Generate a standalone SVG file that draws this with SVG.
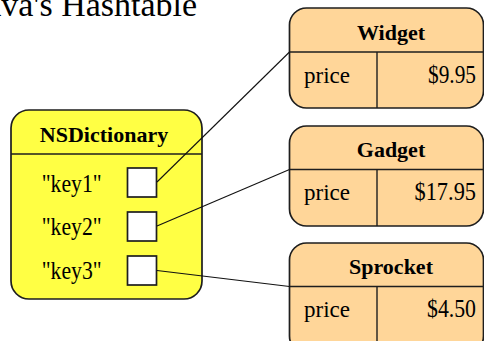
<svg xmlns="http://www.w3.org/2000/svg" width="484" height="341" viewBox="0 0 484 341">
  <style>
    .frame { stroke: #1e1e1e; stroke-width: 1.7; }
    .dict { fill: #ffff44; }
    .obj { fill: #ffd699; }
    .slot { fill: #ffffff; stroke: #1e1e1e; stroke-width: 1.7; }
    .rule { stroke: #1e1e1e; stroke-width: 1.4; fill: none; }
    .txt { font-family: "Liberation Serif", "Times New Roman", serif; fill: #000; }
    .head { font-weight: bold; font-size: 22px; text-anchor: middle; }
    .key { font-size: 25px; text-anchor: middle; }
    .field { font-size: 24px; }
    .val { font-size: 25px; text-anchor: end; }
    .link { stroke: #111; stroke-width: 1.1; fill: none; }
  </style>

  <!-- heading, partly outside the left/top edge -->
  <text class="txt" x="-27" y="16" font-size="34" textLength="224" lengthAdjust="spacingAndGlyphs">Java's Hashtable</text>

  <g id="nsdictionary">
    <rect class="frame dict" x="11" y="110" width="191" height="189" rx="18" ry="18"/>
    <line class="rule" x1="11" y1="154" x2="202" y2="154"/>
    <text class="txt head" x="104" y="141.5">NSDictionary</text>
    <text class="txt key" x="71.7" y="191.5" textLength="60" lengthAdjust="spacingAndGlyphs">"key1"</text>
    <text class="txt key" x="71.7" y="234.5" textLength="60" lengthAdjust="spacingAndGlyphs">"key2"</text>
    <text class="txt key" x="71.7" y="278.5" textLength="60" lengthAdjust="spacingAndGlyphs">"key3"</text>
    <rect class="slot" x="127.5" y="168" width="29" height="29"/>
    <rect class="slot" x="127.5" y="212" width="29" height="29"/>
    <rect class="slot" x="127.5" y="256" width="29" height="29"/>
  </g>

  <g id="widget">
    <rect class="frame obj" x="289.5" y="8" width="194" height="100" rx="17" ry="17"/>
    <line class="rule" x1="289.5" y1="52" x2="483.5" y2="52"/>
    <line class="rule" x1="377" y1="52" x2="377" y2="108"/>
    <text class="txt head" x="391" y="39.5">Widget</text>
    <text class="txt field" x="304" y="82.5" textLength="46" lengthAdjust="spacingAndGlyphs">price</text>
    <text class="txt val" x="476" y="82.5" textLength="48" lengthAdjust="spacingAndGlyphs">$9.95</text>
  </g>

  <g id="gadget">
    <rect class="frame obj" x="289.5" y="126" width="194" height="100" rx="17" ry="17"/>
    <line class="rule" x1="289.5" y1="169.5" x2="483.5" y2="169.5"/>
    <line class="rule" x1="377" y1="169.5" x2="377" y2="226"/>
    <text class="txt head" x="391" y="156.5">Gadget</text>
    <text class="txt field" x="304" y="199.8" textLength="46" lengthAdjust="spacingAndGlyphs">price</text>
    <text class="txt val" x="476" y="199.8" textLength="61.5" lengthAdjust="spacingAndGlyphs">$17.95</text>
  </g>

  <g id="sprocket">
    <rect class="frame obj" x="289.5" y="243" width="194" height="110" rx="17" ry="17"/>
    <line class="rule" x1="289.5" y1="286.5" x2="483.5" y2="286.5"/>
    <line class="rule" x1="377" y1="286.5" x2="377" y2="353"/>
    <text class="txt head" x="391" y="273.5">Sprocket</text>
    <text class="txt field" x="304" y="316.8" textLength="46" lengthAdjust="spacingAndGlyphs">price</text>
    <text class="txt val" x="476" y="316.8" textLength="49" lengthAdjust="spacingAndGlyphs">$4.50</text>
  </g>

  <g id="connectors">
    <line class="link" x1="157" y1="182" x2="289.5" y2="52"/>
    <line class="link" x1="157" y1="226" x2="289.5" y2="169.5"/>
    <line class="link" x1="157" y1="270.5" x2="289.5" y2="286.5"/>
  </g>
</svg>
